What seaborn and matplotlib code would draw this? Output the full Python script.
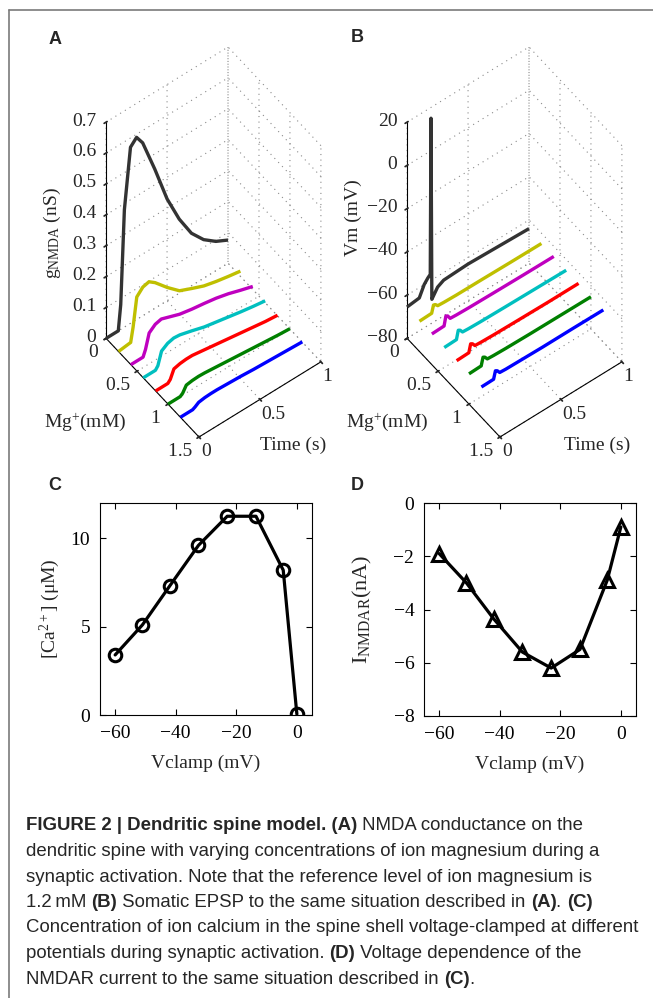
import numpy as np
import matplotlib
matplotlib.use("Agg")
import matplotlib.pyplot as plt
import seaborn as sns
from matplotlib.lines import Line2D
from matplotlib import font_manager
from mpl_toolkits.mplot3d import proj3d

# ---- data ----
MG_LEVELS = [0.0, 0.2, 0.4, 0.6, 0.8, 1.0, 1.2]
TRACE_COLORS = ["#333333", "#bfbf00", "#bf00bf", "#00bfbf", "#ff0000", "#008000", "#0000ff"]

# (A) NMDA conductance (nS) vs time (s)
TIME_A = [0, 0.1, 0.12, 0.15, 0.2, 0.25, 0.3, 0.4, 0.5, 0.6, 0.7, 0.8, 0.9, 1.0]
G_MG00 = [0, 0, 0.08, 0.38, 0.57, 0.59, 0.56, 0.45, 0.33, 0.24, 0.17, 0.125, 0.095, 0.075]
G_MG02 = [0, 0.005, 0.05, 0.14, 0.16, 0.165, 0.15, 0.11, 0.075, 0.058, 0.042, 0.032, 0.024, 0.017]
G_MG04 = [0, 0, 0.02, 0.066, 0.082, 0.087, 0.08, 0.066, 0.058, 0.052, 0.045, 0.035, 0.022, 0.01]
G_MG06 = [0, 0, 0.01, 0.05, 0.063, 0.068, 0.066, 0.055, 0.043, 0.035, 0.027, 0.019, 0.012, 0.006]
G_MG08 = [0, 0, 0.008, 0.035, 0.04, 0.042, 0.042, 0.036, 0.03, 0.024, 0.018, 0.012, 0.006, 0.002]
G_MG10 = [0, 0, 0.006, 0.025, 0.028, 0.029, 0.028, 0.024, 0.02, 0.016, 0.012, 0.008, 0.004, 0.001]
G_MG12 = [0, 0, 0.004, 0.012, 0.015, 0.016, 0.016, 0.014, 0.012, 0.009, 0.007, 0.005, 0.003, 0.001]

# (B) somatic membrane potential (mV) vs time (s)
TIME_B_SPIKE = [0, 0.1, 0.14, 0.17, 0.19, 0.196, 0.203, 0.215, 0.25, 0.3, 0.5, 0.75, 1.0]
V_MG00 = [-65.5, -64.8, -60, -58, -57, 15, -69, -68, -65, -63.5, -63, -63.5, -64]
TIME_B = [0, 0.1, 0.115, 0.13, 0.15, 0.2, 0.3, 0.5, 0.75, 1.0]
V_MG02 = [-66, -65.8, -62.5, -62.8, -64, -64.2, -64.4, -64.5, -64.7, -64.8]
V_MG04 = [-65.8, -65.6, -61.5, -62, -63.8, -64, -64.2, -64.4, -64.6, -64.7]
V_MG06 = [-66, -65.8, -62, -62.5, -64, -64.2, -64.4, -64.6, -64.8, -65]
V_MG08 = [-66, -65.8, -62.2, -62.7, -64.2, -64.4, -64.6, -64.8, -65, -65]
V_MG10 = [-66, -65.8, -62.3, -62.8, -64.3, -64.5, -64.7, -64.9, -65, -65.1]
V_MG12 = [-66, -65.9, -62.5, -63, -64.5, -64.7, -64.8, -65, -65, -65.1]

# (C) and (D) voltage clamp
VCLAMP = [-60, -51, -42, -32.5, -23, -13.5, -4.5, 0]
CA_CONC = [3.4, 5.1, 7.3, 9.6, 11.25, 11.25, 8.2, 0.05]
I_NMDAR = [-1.9, -3.0, -4.35, -5.6, -6.2, -5.5, -2.9, -0.9]

A_TRACES = [(TIME_A, g) for g in (G_MG00, G_MG02, G_MG04, G_MG06, G_MG08, G_MG10, G_MG12)]
B_TRACES = [(TIME_B_SPIKE, V_MG00)] + [(TIME_B, v) for v in (V_MG02, V_MG04, V_MG06, V_MG08, V_MG10, V_MG12)]

MG_TICKS = [0, 0.5, 1, 1.5]
MG_TICKLABELS = ["0 ", "0.5 ", "1 ", "1.5 "]
TIME_TICKS = [0, 0.5, 1]
TIME_TICKLABELS = ["0", "0.5", "1"]

CAPTION = [
    [("FIGURE 2 | Dendritic spine model. (A)", True), (" NMDA conductance on the", False)],
    [("dendritic spine with varying concentrations of ion magnesium during a", False)],
    [("synaptic activation. Note that the reference level of ion magnesium is", False)],
    [("1.2\u2009mM ", False), ("(B)", True), (" Somatic EPSP to the same situation described in ", False),
     ("(A)", True), (". ", False), ("(C)", True)],
    [("Concentration of ion calcium in the spine shell voltage-clamped at different", False)],
    [("potentials during synaptic activation. ", False), ("(D)", True), (" Voltage dependence of the", False)],
    [("NMDAR current to the same situation described in ", False), ("(C)", True), (".", False)],
]

# ---- style ----
sns.set_theme(style="ticks")
SERIF = ["Liberation Serif", "DejaVu Serif"]
plt.rcParams["font.family"] = SERIF
plt.rcParams["mathtext.fontset"] = "custom"
plt.rcParams["mathtext.rm"] = "Liberation Serif"
plt.rcParams["mathtext.it"] = "Liberation Serif:italic"
plt.rcParams["axes.unicode_minus"] = True
installed = {f.name for f in font_manager.fontManager.ttflist}
CAP_FONT = ["Liberation Sans Narrow"] if "Liberation Sans Narrow" in installed else ["Liberation Sans"]
CAP_FONT = CAP_FONT + ["DejaVu Sans"]

W_PX, H_PX = 653, 998
fig = plt.figure(figsize=(W_PX / 100, H_PX / 100), dpi=100)
fig.patch.set_facecolor("white")


def fx(px):
    return px / W_PX


def fy(py):
    return 1 - py / H_PX


# frame
fig.add_artist(Line2D([fx(8.5), fx(8.5)], [0, fy(9.5)], color="#7a7a7a", lw=1.2))
fig.add_artist(Line2D([fx(8.5), 1], [fy(9.5), fy(9.5)], color="#7a7a7a", lw=1.2))


def make_3d(zlim, zticks, zticklabels):
    ax = fig.add_axes([0, 0, 0.5, 0.5], projection="3d")
    ax.patch.set_alpha(0)
    ax.set_proj_type("ortho")
    ax.view_init(elev=54, azim=-37.3)
    ax.set_box_aspect((1, 1, 2.4))
    ax.set_xlim(0, 1.5)
    ax.set_ylim(0, 1)
    ax.set_zlim(*zlim)
    ax.set_xticks(MG_TICKS)
    ax.set_xticklabels(MG_TICKLABELS, ha="right")
    ax.set_yticks(TIME_TICKS)
    ax.set_yticklabels(TIME_TICKLABELS, ha="left")
    ax.set_zticks(zticks)
    ax.set_zticklabels(zticklabels, ha="right", va="center")
    ax.tick_params(axis="x", labelsize=14, pad=-5)
    ax.tick_params(axis="y", labelsize=14, pad=-5)
    ax.tick_params(axis="z", labelsize=14, pad=-1)
    ax.zaxis.set_ticks_position("lower")
    ax.zaxis.set_label_position("lower")
    for axis in (ax.xaxis, ax.yaxis, ax.zaxis):
        axis.pane.set_fill(False)
        axis.pane.set_edgecolor("none")
        axis._axinfo["grid"].update(color="#8a8a8a", linestyle=(0, (1, 4)), linewidth=0.8)
        axis.line.set_color("black")
        axis.line.set_linewidth(0.8)
    ax.grid(True)
    return ax


axA = make_3d((0, 0.7), [0, 0.1, 0.2, 0.3, 0.4, 0.5, 0.6, 0.7],
              ["0", "0.1", "0.2", "0.3", "0.4", "0.5", "0.6", "0.7"])
for mg, (t, g), col in zip(MG_LEVELS, A_TRACES, TRACE_COLORS):
    axA.plot(np.full(len(t), mg), t, g, color=col, lw=2.4, solid_capstyle="butt")

axB = make_3d((-80, 20), [-80, -60, -40, -20, 0, 20],
              ["\u221280", "\u221260", "\u221240", "\u221220", "0", "20"])
for mg, (t, v), col in zip(MG_LEVELS, B_TRACES, TRACE_COLORS):
    axB.plot(np.full(len(t), mg), t, v, color=col, lw=2.4, solid_capstyle="butt")


def fit_box(ax, left, right, top, bottom):
    # scale/shift the 3D axes so its projected data box lands on the target pixel box
    side = 400.0
    cx, cy = (left + right) / 2, H_PX - (top + bottom) / 2
    ax.set_position([(cx - side / 2) / W_PX, (cy - side / 2) / H_PX, side / W_PX, side / H_PX])
    for _ in range(3):
        fig.canvas.draw()
        xs, ys, zs = [a.ravel() for a in np.meshgrid(ax.get_xlim3d(), ax.get_ylim3d(), ax.get_zlim3d())]
        px, py, _ = proj3d.proj_transform(xs, ys, zs, ax.M)
        pts = ax.transData.transform(np.column_stack([px, py]))
        mcx = (pts[:, 0].min() + pts[:, 0].max()) / 2
        mcy = (pts[:, 1].min() + pts[:, 1].max()) / 2
        k = (bottom - top) / (pts[:, 1].max() - pts[:, 1].min())
        pos = ax.get_position()
        acx = (pos.x0 + pos.x1) / 2 * W_PX
        acy = (pos.y0 + pos.y1) / 2 * H_PX
        s = pos.width * W_PX * k
        ncx = cx - k * (mcx - acx)
        ncy = cy - k * (mcy - acy)
        ax.set_position([(ncx - s / 2) / W_PX, (ncy - s / 2) / H_PX, s / W_PX, s / H_PX])


fit_box(axA, 107, 320, 47, 437)
fit_box(axB, 407, 622, 47, 437)

LAB = dict(fontsize=14, ha="center", va="center")
fig.text(fx(52), fy(233), r"g$_{\mathrm{NMDA}}$ (nS)", rotation=90, **LAB)
fig.text(fx(85), fy(422), r"Mg$^{+}$(mM)", **LAB)
fig.text(fx(293), fy(445), "Time (s)", **LAB)
fig.text(fx(353), fy(218), "Vm (mV)", rotation=90, **LAB)
fig.text(fx(387), fy(422), r"Mg$^{+}$(mM)", **LAB)
fig.text(fx(597), fy(445), "Time (s)", **LAB)

# ---- 2D panels ----
axC = fig.add_axes([fx(100), fy(715), fx(212), 212 / H_PX])
sns.lineplot(x=VCLAMP, y=CA_CONC, ax=axC, color="black", lw=2.3, marker="o", markersize=9,
             markerfacecolor="none", mec="black", mew=2.2)
axC.set_xlim(-65, 5)
axC.set_ylim(0, 12)
axC.set_xticks([-60, -40, -20, 0])
axC.set_yticks([0, 5, 10])
axC.set_xlabel("Vclamp (mV)", fontsize=14, labelpad=9)
axC.set_ylabel(r"[Ca$^{2+}$] ($\mathrm{\mu}$M)", fontsize=14, labelpad=6)

axD = fig.add_axes([fx(424), fy(716), fx(212), 213 / H_PX])
sns.lineplot(x=VCLAMP, y=I_NMDAR, ax=axD, color="black", lw=2.3, marker="^", markersize=10,
             markerfacecolor="none", mec="black", mew=2.2)
axD.set_xlim(-65, 5)
axD.set_ylim(-8, 0)
axD.set_xticks([-60, -40, -20, 0])
axD.set_yticks([-8, -6, -4, -2, 0])
axD.set_xlabel("Vclamp (mV)", fontsize=14, labelpad=9)
axD.set_ylabel(r"I$_{\mathrm{NMDAR}}$(nA)", fontsize=16, labelpad=14)

for ax in (axC, axD):
    ax.tick_params(direction="in", top=True, right=True, length=4, width=0.8, labelsize=14,
                   colors="black", pad=7)
    for sp in ax.spines.values():
        sp.set_color("black")
        sp.set_linewidth(0.8)

# panel letters
for letter, (px, py) in zip("ABCD", [(55, 40), (357, 38), (55, 485), (357, 485)]):
    fig.text(fx(px), fy(py), letter, fontsize=13, fontweight="bold",
             family=["Liberation Sans", "DejaVu Sans"], ha="center", va="center")

# ---- caption ----
renderer = fig.canvas.get_renderer()


def line_width(runs, size):
    w = 0
    for txt, bold in runs:
        t = fig.text(0, 0, txt, fontsize=size, family=CAP_FONT, fontweight="bold" if bold else "normal")
        w += t.get_window_extent(renderer).width
        t.remove()
    return w


cap_size = 13 * 615 / line_width(CAPTION[4], 13)
for i, runs in enumerate(CAPTION):
    x = 26.0
    y = 826 + i * 25.5
    for txt, bold in runs:
        t = fig.text(fx(x), fy(y), txt, fontsize=cap_size, family=CAP_FONT,
                     fontweight="bold" if bold else "normal", ha="left", va="center")
        x += t.get_window_extent(renderer).width

fig.savefig("out.png", dpi=100)
